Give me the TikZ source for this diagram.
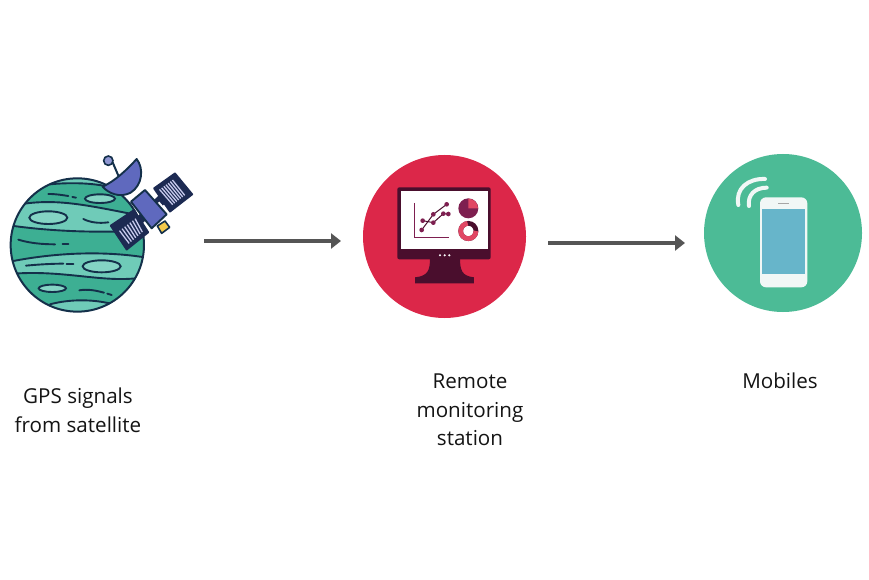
\documentclass[tikz,border=0pt]{standalone}
\usepackage{fontspec}
\setmainfont{Open Sans}
\usetikzlibrary{arrows.meta}
\definecolor{ink}{HTML}{14304A}
\definecolor{tealbase}{HTML}{3DAF93}
\definecolor{teallight}{HTML}{6FCBB8}
\definecolor{tealpale}{HTML}{84D4C4}
\definecolor{satblue}{HTML}{5F69BE}
\definecolor{satdark}{HTML}{1C2A52}
\definecolor{satpale}{HTML}{C6C9EC}
\definecolor{satgold}{HTML}{F2C94C}
\definecolor{stationred}{HTML}{DC2749}
\definecolor{plum}{HTML}{4A0E2D}
\definecolor{plummid}{HTML}{7E1F50}
\definecolor{mobilegreen}{HTML}{4CBB96}
\definecolor{screenblue}{HTML}{67B5CA}
\definecolor{phonewhite}{HTML}{F1F7F6}
\definecolor{arrowgrey}{HTML}{555555}
\tikzset{
  flowarrow/.style={draw=arrowgrey,line width=3.8pt,-{Triangle[length=10pt,width=15pt]}},
  caption/.style={align=center,font=\fontsize{20.6}{28.6}\selectfont,text=black!92,inner sep=0pt},
  disc/.style={circle,inner sep=0pt,minimum size=#1},
  inkline/.style={draw=ink,line width=1.9pt,line cap=round},
  lens/.style={draw=ink,line width=1.9pt,fill=tealpale},
  plate/.style={draw=satdark,line width=1.7pt,fill=satdark,line join=round},
  stripe/.style={draw=satpale,line width=1.3pt},
}
\begin{document}
\begin{tikzpicture}[x=1pt,y=-1pt]
\useasboundingbox (0,0) rectangle (869,580);
\fill[white] (0,0) rectangle (869,580);

% ---------- planet
\node[disc=134pt,fill=tealbase] (planet) at (77.5,245) {};
\begin{scope}[x=0.3333pt,y=-0.3333pt,shift={(0pt,-145pt)}]
\begin{scope}
\clip (232,300) circle (200);
\fill[teallight] (130,100) -- (330,100) -- (310,122) .. controls (260,113) and (200,113) .. (150,118) -- cycle;
\fill[teallight] (60,178) .. controls (170,160) and (260,180) .. (420,212) -- (420,258) .. controls (300,262) and (170,262) .. (20,240) -- cycle;
\fill[teallight] (20,352) .. controls (150,325) and (300,315) .. (440,338) -- (440,395) .. controls (320,420) and (190,370) .. (20,388) -- cycle;
\fill[teallight] (150,478) .. controls (210,462) and (280,462) .. (340,478) -- (340,520) -- (130,520) -- cycle;
\draw[inkline] (150,118) .. controls (200,113) and (260,113) .. (310,122);
\draw[inkline] (60,178) .. controls (170,160) and (260,180) .. (420,212);
\draw[inkline] (20,240) .. controls (170,262) and (300,262) .. (420,258);
\draw[inkline] (20,352) .. controls (150,325) and (300,315) .. (440,338);
\draw[inkline] (20,388) .. controls (190,370) and (320,420) .. (440,395);
\draw[inkline] (150,478) .. controls (210,462) and (280,462) .. (340,478);
\end{scope}
\draw[lens] (300,161) ellipse (45 and 13);
\draw[lens] (145,218) ellipse (57 and 19);
\draw[lens] (305,364) ellipse (57 and 18);
\draw[lens] (157,430) ellipse (41 and 11);
\draw[inkline] (145,147) .. controls (170,147) and (185,150) .. (205,153);
\draw[inkline] (217,156) -- (228,158);
\draw[inkline] (250,222) .. controls (270,232) and (295,236) .. (325,232);
\draw[inkline] (55,284) .. controls (90,295) and (130,298) .. (165,298);
\draw[inkline] (188,298) -- (205,298);
\draw[inkline] (78,362) .. controls (120,358) and (160,356) .. (190,356);
\draw[inkline] (200,356) -- (220,356);
\draw[inkline] (238,436) .. controls (265,432) and (285,436) .. (312,443);
\draw[inkline] (322,446) -- (335,450);
\draw[draw=ink,line width=2pt] (232,300) circle (200);

% ---------- satellite
\draw[draw=ink,line width=2pt] (338,52) -- (362,108);
\fill[satblue!70!white,draw=ink,line width=1.6pt] (325,47) circle (14);
\draw[draw=ink,line width=1.9pt,fill=satblue,line join=round] (410,42) .. controls (432,70) and (428,120) .. (392,143) .. controls (360,160) and (325,145) .. (308,125) .. controls (345,108) and (380,75) .. (410,42) -- cycle;
% connectors
\fill[satdark] (440,185) -- (478,150) -- (498,172) -- (462,208) -- cycle;
\fill[satdark] (400,225) -- (430,198) -- (445,218) -- (418,245) -- cycle;
\fill[white] (468,178) -- (478,170) -- (490,184) -- (480,192) -- cycle;
% lower-left panel
\draw[plate] (332,242) -- (402,195) -- (445,262) -- (380,314) -- cycle;
\foreach \t in {0.1,0.22,0.34,0.46,0.58,0.70,0.82}{
  \draw[stripe] ({352+\t*65},{262-\t*50}) -- ({382+\t*55},{300-\t*47});
}
% upper-right panel
\draw[plate] (462,130) -- (525,85) -- (577,148) -- (510,200) -- cycle;
\foreach \t in {0.05,0.18,0.31,0.44,0.57,0.70,0.83}{
  \draw[stripe] ({476+\t*50},{135-\t*36}) -- ({516+\t*46},{181-\t*36});
}
% gold tip
\draw[draw=ink,line width=1.6pt,fill=satgold,line join=round] (472,243) -- (495,228) -- (509,247) -- (485,265) -- cycle;
% body
\draw[draw=ink,line width=1.9pt,fill=satblue,line join=round] (393,170) -- (435,135) -- (500,208) -- (455,250) -- cycle;
\end{scope}

% ---------- station
\node[disc=163pt,fill=stationred] (station) at (444.5,236.5) {};
\begin{scope}[x=0.3333pt,y=-0.3333pt,shift={(380pt,-175pt)}]
\fill[plum] (150,248) -- (240,248) .. controls (240,285) and (245,303) .. (282,307) -- (282,325) -- (105,325) -- (105,307) .. controls (145,303) and (150,285) .. (150,248) -- cycle;
\fill[plum,rounded corners=2pt] (52,37) rectangle (332,253);
\fill[white] (62,48) rectangle (325,222);
\foreach \d in {180,194,208} \fill[white] (\d,241) circle (3.5);
\draw[plummid,line width=1.5pt] (103,84) -- (103,188) -- (208,188);
\draw[plum,line width=1pt] (125,165) -- (160,118) -- (200,88);
\draw[plum,line width=1pt] (128,137) -- (160,143) -- (190,116) -- (205,117);
\foreach \p in {(125,165),(160,118),(200,88),(128,137),(160,143),(190,116),(205,117)}
  \fill[plummid] \p circle (7);
\fill[plummid] (265,100) circle (30);
\fill[stationred!85!white] (265,100) -- (265,71) arc[start angle=-90,end angle=0,radius=29] -- cycle;
\draw[plum,line width=4.7pt] (265,168) circle (23);
\draw[stationred!85!white,line width=4.7pt] (288,168) arc[start angle=0,end angle=265,radius=23];
\end{scope}

% ---------- mobile
\node[disc=158pt,fill=mobilegreen] (mobile) at (783,233) {};
\begin{scope}[x=0.3333pt,y=-0.3333pt,shift={(700pt,-150pt)}]
\fill[phonewhite,rounded corners=6pt] (180,142) rectangle (322,412);
\fill[screenblue] (187,177) rectangle (315,373);
\draw[black!35,line width=1pt] (235,161) -- (267,161);
\draw[phonewhite,line width=4pt,line cap=round] (115,165) .. controls (105,115) and (145,85) .. (195,87);
\draw[phonewhite,line width=4pt,line cap=round] (147,168) .. controls (142,135) and (165,113) .. (200,113);
\end{scope}

% ---------- captions
\node[caption] (capA) at (78,410) {GPS signals\\from satellite};
\node[caption] (capB) at (470,410) {Remote\\monitoring\\station};
\node[caption] (capC) at (780,381) {Mobiles};

% ---------- connectors
\coordinate (aStart) at (204,241);
\coordinate (aEnd) at (341,241);
\coordinate (bStart) at (548,243);
\coordinate (bEnd) at (685,243);
\draw[flowarrow] (aStart) -- (aEnd);
\draw[flowarrow] (bStart) -- (bEnd);
\end{tikzpicture}
\end{document}
